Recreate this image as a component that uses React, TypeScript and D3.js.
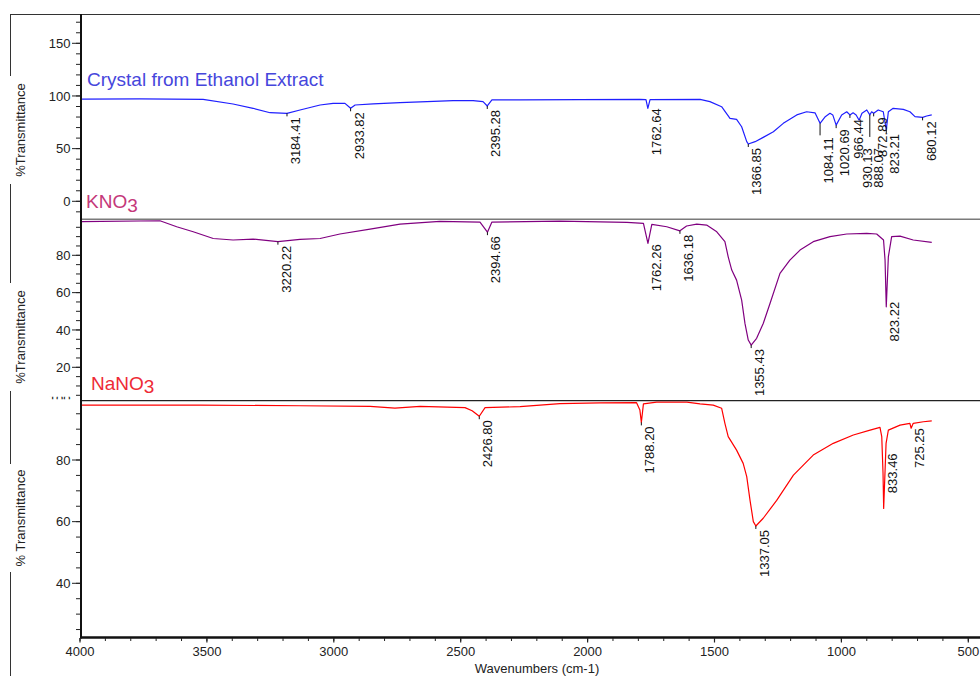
import React from "react";
import * as d3 from "d3";

// ---------- DATA ----------
const X_TICKS = [4000, 3500, 3000, 2500, 2000, 1500, 1000, 500];
const TOP_TICKS = [0, 50, 100, 150];
const MID_TICKS = [20, 40, 60, 80];
const BOT_TICKS = [40, 60, 80, 100];

const TITLE_TOP = "Crystal from Ethanol Extract";
const Y_LABELS = ["%Transmittance", "%Transmittance", "% Transmittance"];
const X_LABEL = "Wavenumbers (cm-1)";

// [wavenumber, %T]
const crystal: [number, number][] = [
  [3992, 97], [3764, 97.3], [3515, 96.8], [3397, 92.4], [3318, 88.3], [3251, 84.1],
  [3184.41, 83.5], [3133, 86.7], [3054, 91.4], [3003, 93], [2956, 93], [2933.82, 88.3],
  [2916, 91.4], [2845, 92.4], [2739, 93.6], [2633, 94.6], [2530, 95.5], [2451, 95.5],
  [2412, 94.6], [2395.28, 90.5], [2377, 96.2], [2266, 96.2], [2030, 96.6], [1794, 96.8],
  [1770, 96.5], [1762.64, 88.3], [1754, 96.5], [1557, 96.8], [1518, 94.6], [1472, 89.8],
  [1439, 78.8], [1413, 77.8], [1393, 70.8], [1373, 56.6], [1366.85, 54.4], [1340, 56.6],
  [1308, 60.7], [1268, 66], [1229, 74], [1176, 82], [1137, 85], [1104, 84],
  [1084.11, 74], [1065, 80], [1045, 83.5], [1034, 82], [1020.69, 72.3], [999, 82],
  [979, 85], [966.44, 82], [954, 84], [942, 82], [930.13, 77], [919, 83.6], [900, 86.7],
  [888.07, 82], [881, 85], [872.89, 83.5], [855, 86.7], [835, 85], [823.21, 67.7],
  [815, 85], [796, 88.3], [756, 87.3], [730, 85], [710, 80.4], [680.12, 79.7],
  [664, 81], [644, 82],
];

const kno3: [number, number][] = [
  [3993, 98], [3685, 98.5], [3619, 95.3], [3554, 92.6], [3475, 89], [3397, 88.2],
  [3318, 88.7], [3220.22, 87.3], [3133, 88.5], [3054, 89], [2976, 91.4], [2857, 94],
  [2739, 96.7], [2582, 98.2], [2424, 97.8], [2394.66, 92.4], [2377, 97.8], [2109, 98.3],
  [1845, 97.6], [1780, 97.1], [1762.26, 86.4], [1747, 96.6], [1688, 95.3],
  [1636.18, 93.1], [1610, 95.7], [1570, 96.7], [1531, 96.2], [1491, 92.6], [1459, 87.3],
  [1446, 79.2], [1432, 72.1], [1413, 66.7], [1393, 56], [1380, 43.5], [1367, 34.6],
  [1355.43, 31.9], [1334, 35.5], [1308, 43.5], [1281, 54.3], [1242, 70.3], [1203, 77.4],
  [1163, 82.8], [1111, 87.3], [1045, 90], [979, 91.4], [900, 91.7], [861, 91.4],
  [834, 88.2], [828, 77.4], [823.22, 52.4], [815, 79.2], [802, 90], [769, 90.3],
  [717, 88.2], [644, 86.9],
];

const nano3: [number, number][] = [
  [3992, 97.8], [3527, 97.8], [3133, 97.6], [2857, 97.4], [2759, 96.8], [2660, 97.4],
  [2483, 97], [2455, 96], [2426.8, 94.2], [2404, 97], [2266, 97.3], [2109, 98.3],
  [1951, 98.5], [1807, 98.6], [1794, 96.2], [1788.2, 92.2], [1780, 98.2], [1728, 98.8],
  [1609, 98.8], [1557, 98.2], [1505, 97.8], [1472, 96.8], [1459, 91.9], [1446, 87.6],
  [1413, 83.2], [1387, 78.9], [1373, 74.6], [1360, 66.9], [1347, 60], [1337.05, 58.6],
  [1308, 61.1], [1255, 66.9], [1189, 75.1], [1111, 81.6], [1032, 85.4], [953, 88.1],
  [887, 89.7], [848, 90.6], [841, 87.6], [836, 75.7], [833.46, 64.3], [824, 85.4],
  [815, 89.7], [769, 91.3], [730, 91.9], [725.25, 90.3], [717, 91.9], [677, 92.4],
  [644, 92.7],
];

const crystalPeaks = ["3184.41", "2933.82", "2395.28", "1762.64", "1366.85", "1084.11",
  "1020.69", "966.44", "930.13", "888.07", "872.89", "823.21", "680.12"];
const kno3Peaks = ["3220.22", "2394.66", "1762.26", "1636.18", "1355.43", "823.22"];
const nano3Peaks = ["2426.80", "1788.20", "1337.05", "833.46", "725.25"];

// ---------- LAYOUT ----------
const W = 980, H = 676;
const X0 = 80, XR = 980, XB = 637;
const FONT = "'Liberation Sans', Arial, sans-serif";

// label layout: distance (px) from peak point to text top, and tick line length
const LABEL_LAYOUT: Record<string, { drop: number; line: number }> = {
  "1084.11": { drop: 14, line: 12 },
  "930.13": { drop: 28, line: 0 },
  "888.07": { drop: 33, line: 22 },
  "823.22": { drop: -5, line: 0 },
  "833.46": { drop: -55, line: 0 },
  "725.25": { drop: 0, line: 0 },
  "1762.64": { drop: 0, line: 0 },
  "1762.26": { drop: 1, line: 0 },
};

export default function App() {
  const x = d3.scaleLinear().domain([4000, 500]).range([X0, 968.3]);

  const panels = [
    {
      id: "p1",
      data: crystal,
      peaks: crystalPeaks,
      color: "#1f1fff",
      y: d3.scaleLinear().domain([0, 150]).range([201.3, 43.3]),
      top: 14.7,
      bottom: 219.3,
      majors: TOP_TICKS,
      minorStep: 10,
      label: Y_LABELS[0],
      labelCy: 130,
    },
    {
      id: "p2",
      data: kno3,
      peaks: kno3Peaks,
      color: "#800080",
      y: d3.scaleLinear().domain([20, 80]).range([367.3, 255.3]),
      top: 219.3,
      bottom: 400.7,
      majors: MID_TICKS,
      minorStep: 5,
      label: Y_LABELS[1],
      labelCy: 337,
    },
    {
      id: "p3",
      data: nano3,
      peaks: nano3Peaks,
      color: "#ff0000",
      y: d3.scaleLinear().domain([40, 80]).range([583.3, 460]),
      top: 400.7,
      bottom: XB,
      majors: BOT_TICKS,
      minorStep: 5,
      label: Y_LABELS[2],
      labelCy: 518,
    },
  ];

  const xMinor = d3.range(500, 4001, 100);

  return (
    <svg
      width={W}
      height={H}
      style={{ position: "absolute", left: 0, top: 0, display: "block", background: "#fff" }}
      fontFamily={FONT}
    >
      <defs>
        {panels.map((p) => (
          <clipPath id={"clip-" + p.id} key={p.id}>
            <rect x={X0} y={p.top} width={XR - X0} height={p.bottom - p.top} />
          </clipPath>
        ))}
        {panels.map((p) => (
          <clipPath id={"clipy-" + p.id} key={"y" + p.id}>
            <rect x={0} y={p.top + 1} width={X0 + 2} height={p.bottom - p.top - 1} />
          </clipPath>
        ))}
        <clipPath id="sliver">
          <rect x={0} y={396.8} width={X0} height={2.4} />
        </clipPath>
      </defs>

      {/* outer frame */}
      <line x1={10} x2={XR} y1={14.5} y2={14.5} stroke="#333" strokeWidth={1} />
      {[[14.5, 76], [184, 283], [391, 464], [572, 676]].map(([a, b], i) => (
        <line key={i} x1={10.5} x2={10.5} y1={a} y2={b} stroke="#333" strokeWidth={1} />
      ))}

      {panels.map((p) => {
        const minors = d3.range(-20, 200, p.minorStep).filter((v) => {
          const yy = p.y(v);
          return yy >= p.top + 1 && yy <= p.bottom - 1;
        });
        const line = d3
          .line<[number, number]>()
          .x((d) => x(d[0]))
          .y((d) => p.y(d[1]));
        return (
          <g key={p.id}>
            {/* y ticks */}
            {minors.map((v) => (
              <line key={"m" + v} x1={76} x2={80} y1={p.y(v)} y2={p.y(v)} stroke="#222" strokeWidth={1} />
            ))}
            {p.majors.map((v) => {
              const yy = p.y(v);
              const inside = yy >= p.top + 1 && yy <= p.bottom - 1;
              return (
                <g key={"M" + v}>
                  {inside && <line x1={72} x2={80} y1={yy} y2={yy} stroke="#222" strokeWidth={1} />}
                  <text
                    x={70.5}
                    y={yy}
                    dy="0.35em"
                    textAnchor="end"
                    fontSize={13}
                    fill="#222"
                    clipPath={inside ? `url(#clipy-${p.id})` : "url(#sliver)"}
                  >
                    {v}
                  </text>
                </g>
              );
            })}
            {/* y label */}
            <text
              transform={`translate(25,${p.labelCy}) rotate(-90)`}
              textAnchor="middle"
              fontSize={13}
              fill="#222"
            >
              {p.label}
            </text>
            {/* curve */}
            <path
              d={line(p.data) || ""}
              fill="none"
              stroke={p.color}
              strokeWidth={1.2}
              strokeLinejoin="round"
              clipPath={`url(#clip-${p.id})`}
            />
            {/* peak labels */}
            {p.peaks.map((t) => {
              const wn = +t;
              const near = p.data.filter((d) => Math.abs(d[0] - wn) < 1);
              const v = near.length ? d3.min(near, (d) => d[1])! : p.data[0][1];
              const px = x(wn);
              const py = p.y(v);
              const lay = LABEL_LAYOUT[t] || { drop: 4, line: 3 };
              const ty = py + lay.drop;
              return (
                <g key={t}>
                  {lay.line > 0 && (
                    <line x1={px} x2={px} y1={py} y2={py + lay.line} stroke="#111" strokeWidth={1} />
                  )}
                  <text
                    transform={`translate(${px + 8.5},${ty}) rotate(-90)`}
                    textAnchor="end"
                    dy="0.35em"
                    fontSize={13}
                    fill="#111"
                  >
                    {t}
                  </text>
                </g>
              );
            })}
          </g>
        );
      })}

      {/* separators */}
      <line x1={82} x2={XR} y1={219.3} y2={219.3} stroke="#7a7a7a" strokeWidth={1.5} />
      <line x1={82} x2={XR} y1={400.7} y2={400.7} stroke="#222" strokeWidth={1.2} />

      {/* series titles */}
      <text x={87} y={86} fontSize={19} fill="#4646dc">
        {TITLE_TOP}
      </text>
      <text x={86} y={208.3} fontSize={19} fill="#c4387a">
        KNO<tspan dy={4}>3</tspan>
      </text>
      <text x={91} y={390} fontSize={19} fill="#ee2a36">
        NaNO<tspan dy={3}>3</tspan>
      </text>

      {/* axes */}
      <line x1={81} x2={81} y1={14} y2={638.5} stroke="#111" strokeWidth={2} />
      <line x1={80} x2={XR} y1={637.5} y2={637.5} stroke="#111" strokeWidth={2.5} />
      {xMinor.map((w) => (
        <line key={"xm" + w} x1={x(w)} x2={x(w)} y1={638} y2={641} stroke="#222" strokeWidth={1} />
      ))}
      {X_TICKS.map((w) => (
        <g key={"xt" + w}>
          <line x1={x(w)} x2={x(w)} y1={638} y2={642.5} stroke="#222" strokeWidth={1.2} />
          <text x={x(w)} y={651.5} dy="0.35em" textAnchor="middle" fontSize={13} fill="#222">
            {w}
          </text>
        </g>
      ))}
      <text x={537} y={672.5} textAnchor="middle" fontSize={13} fill="#222">
        {X_LABEL}
      </text>
    </svg>
  );
}
